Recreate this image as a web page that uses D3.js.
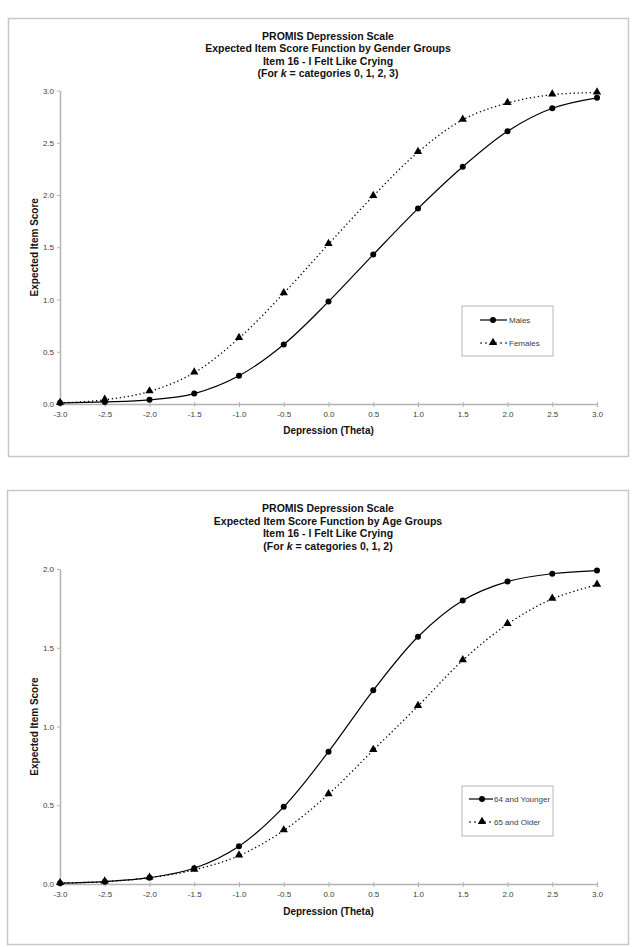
<!DOCTYPE html>
<html><head><meta charset="utf-8">
<script src="https://cdn.jsdelivr.net/npm/d3@7"></script>
<style>
body{margin:0;background:#fff}
svg{display:block}
text{font-family:"Liberation Sans",Arial,Helvetica,sans-serif}
</style>
</head><body>
<svg id="c" width="638" height="947"></svg>
<script>
// ---- data ----
const theta = [-3.0, -2.5, -2.0, -1.5, -1.0, -0.5, 0.0, 0.5, 1.0, 1.5, 2.0, 2.5, 3.0];
const xTickLabels = ["-3.0","-2.5","-2.0","-1.5","-1.0","-0.5","0.0","0.5","1.0","1.5","2.0","2.5","3.0"];

// Chart 1: gender groups
const males   = [0.01, 0.02, 0.04, 0.10, 0.27, 0.57, 0.98, 1.43, 1.87, 2.27, 2.61, 2.83, 2.93];
const females = [0.01, 0.04, 0.12, 0.30, 0.63, 1.06, 1.53, 1.99, 2.41, 2.72, 2.88, 2.96, 2.98];
const yTicksGender = [0, 0.5, 1.0, 1.5, 2.0, 2.5, 3.0];
const yTickLabelsGender = ["0.0","0.5","1.0","1.5","2.0","2.5","3.0"];
const titleGender = ["PROMIS Depression Scale", "Expected Item Score Function by Gender Groups", "Item 16 - I Felt Like Crying", ["(For ", "k", " = categories 0, 1, 2, 3)"]];
const seriesGenderNames = ["Males", "Females"];

// Chart 2: age groups
const younger = [0.005, 0.015, 0.04, 0.10, 0.24, 0.49, 0.84, 1.23, 1.57, 1.80, 1.92, 1.97, 1.99];
const older   = [0.005, 0.015, 0.04, 0.09, 0.18, 0.34, 0.57, 0.85, 1.13, 1.42, 1.65, 1.81, 1.90];
const yTicksAge = [0, 0.5, 1.0, 1.5, 2.0];
const yTickLabelsAge = ["0.0","0.5","1.0","1.5","2.0"];
const titleAge = ["PROMIS Depression Scale", "Expected Item Score Function by Age Groups", "Item 16 - I Felt Like Crying", ["(For ", "k", " = categories 0, 1, 2)"]];
const seriesAgeNames = ["64 and Younger", "65 and Older"];

const xAxisTitle = "Depression (Theta)";
const yAxisTitle = "Expected Item Score";

const svg = d3.select("#c");
const AXIS_COL = "#b4b4b4";
const TXT_COL = "#404040";

function drawChart(cfg) {
  const g = svg.append("g");
  g.append("rect").attr("x", cfg.panel[0]).attr("y", cfg.panel[1])
    .attr("width", cfg.panel[2]).attr("height", cfg.panel[3])
    .attr("fill", "#fff").attr("stroke", "#c8c8c8").attr("stroke-width", 1.5);

  cfg.title.forEach((line, i) => {
    const t = g.append("text").attr("x", cfg.cx).attr("y", cfg.titleY + i * cfg.titleStep)
      .attr("text-anchor", "middle").attr("font-size", 10.5).attr("font-weight", "bold").attr("fill", "#111");
    if (Array.isArray(line)) {
      t.append("tspan").text(line[0]);
      t.append("tspan").attr("font-style", "italic").text(line[1]);
      t.append("tspan").text(line[2]);
    } else t.text(line);
  });

  const x = d3.scaleLinear().domain([-3, 3]).range([cfg.x0, cfg.x1]);
  const y = d3.scaleLinear().domain(cfg.yDomain).range([cfg.yBottom, cfg.yTop]);

  const xa = g.append("g").attr("transform", `translate(0,${cfg.yBottom})`)
    .call(d3.axisBottom(x).tickValues(theta).tickFormat((d, i) => xTickLabels[i]).tickSize(3).tickSizeOuter(0));
  xa.select(".domain").attr("stroke", AXIS_COL).attr("stroke-width", 1.5);
  xa.selectAll(".tick line").attr("stroke", AXIS_COL).attr("y1", -2).attr("y2", 3);
  xa.selectAll(".tick text").attr("font-size", 8).attr("fill", TXT_COL).attr("dy", "0.9em")
    .attr("font-family", "'Liberation Sans',Arial,sans-serif");

  const ya = g.append("g").attr("transform", `translate(${cfg.x0},0)`)
    .call(d3.axisLeft(y).tickValues(cfg.yTicks).tickFormat((d, i) => cfg.yTickLabels[i]).tickSize(3).tickSizeOuter(0));
  ya.select(".domain").attr("stroke", AXIS_COL).attr("stroke-width", 1.5);
  ya.selectAll(".tick line").attr("stroke", AXIS_COL);
  ya.selectAll(".tick text").attr("font-size", 8).attr("fill", TXT_COL).attr("x", -6)
    .attr("font-family", "'Liberation Sans',Arial,sans-serif");
  g.selectAll(".domain").attr("fill", "none");

  g.append("text").attr("x", (cfg.x0 + cfg.x1) / 2).attr("y", cfg.xTitleY)
    .attr("text-anchor", "middle").attr("font-size", 10).attr("font-weight", "bold").attr("fill", "#111")
    .text(xAxisTitle);
  g.append("text").attr("transform", `translate(${cfg.yTitleX},${(cfg.yTop + cfg.yBottom) / 2}) rotate(-90)`)
    .attr("text-anchor", "middle").attr("font-size", 10).attr("font-weight", "bold").attr("fill", "#111")
    .text(yAxisTitle);

  const line = d3.line().x((d, i) => x(theta[i])).y(d => y(d)).curve(d3.curveCatmullRom.alpha(0.5));

  g.append("path").datum(cfg.s2).attr("d", line).attr("fill", "none")
    .attr("stroke", "#000").attr("stroke-width", 1.3).attr("stroke-dasharray", "1.3,2.7");
  g.append("path").datum(cfg.s1).attr("d", line).attr("fill", "none")
    .attr("stroke", "#000").attr("stroke-width", 1.2);

  const tri = d3.symbol().type(d3.symbolTriangle).size(30);
  g.selectAll(".tri").data(cfg.s2).join("path")
    .attr("transform", (d, i) => `translate(${x(theta[i])},${y(d) - 0.5})`)
    .attr("d", tri).attr("fill", "#000");
  g.selectAll(".cir").data(cfg.s1).join("circle")
    .attr("cx", (d, i) => x(theta[i])).attr("cy", d => y(d)).attr("r", 3).attr("fill", "#000");

  const L = cfg.legend;
  const lg = g.append("g").attr("transform", `translate(${L.x},${L.y})`);
  lg.append("rect").attr("width", L.w).attr("height", L.h).attr("fill", "#fff")
    .attr("stroke", "#b8b8b8").attr("stroke-width", 1);
  lg.append("line").attr("x1", L.lx0).attr("x2", L.lx1).attr("y1", L.e1).attr("y2", L.e1)
    .attr("stroke", "#000").attr("stroke-width", 1.2);
  lg.append("circle").attr("cx", L.mx).attr("cy", L.e1).attr("r", 3).attr("fill", "#000");
  lg.append("text").attr("x", L.tx).attr("y", L.e1).attr("dy", "0.35em").attr("font-size", 8)
    .attr("fill", TXT_COL).text(cfg.names[0]);
  lg.append("line").attr("x1", L.lx0).attr("x2", L.lx1).attr("y1", L.e2).attr("y2", L.e2)
    .attr("stroke", "#000").attr("stroke-width", 1).attr("stroke-dasharray", "2,3");
  lg.append("path").attr("transform", `translate(${L.mx},${L.e2 - 0.5})`).attr("d", tri).attr("fill", "#000");
  lg.append("text").attr("x", L.tx).attr("y", L.e2).attr("dy", "0.35em").attr("font-size", 8)
    .attr("fill", TXT_COL).text(cfg.names[1]);
}

drawChart({
  panel: [8.5, 18.5, 620, 438],
  cx: 328, titleY: 39.5, titleStep: 12.5, title: titleGender,
  x0: 60, x1: 597, yBottom: 404, yTop: 90.5, yDomain: [0, 3],
  yTicks: yTicksGender, yTickLabels: yTickLabelsGender,
  xTitleY: 434, yTitleX: 38,
  s1: males, s2: females, names: seriesGenderNames,
  legend: {x: 462, y: 306, w: 91, h: 50, e1: 14, e2: 37, lx0: 18, lx1: 45, mx: 31, tx: 47}
});

drawChart({
  panel: [7.5, 490.5, 621, 454],
  cx: 328, titleY: 512, titleStep: 12.5, title: titleAge,
  x0: 60, x1: 597, yBottom: 884, yTop: 569, yDomain: [0, 2],
  yTicks: yTicksAge, yTickLabels: yTickLabelsAge,
  xTitleY: 915, yTitleX: 38,
  s1: younger, s2: older, names: seriesAgeNames,
  legend: {x: 462, y: 786, w: 91, h: 50, e1: 13, e2: 36, lx0: 7, lx1: 31, mx: 20, tx: 32}
});
</script>
</body></html>
